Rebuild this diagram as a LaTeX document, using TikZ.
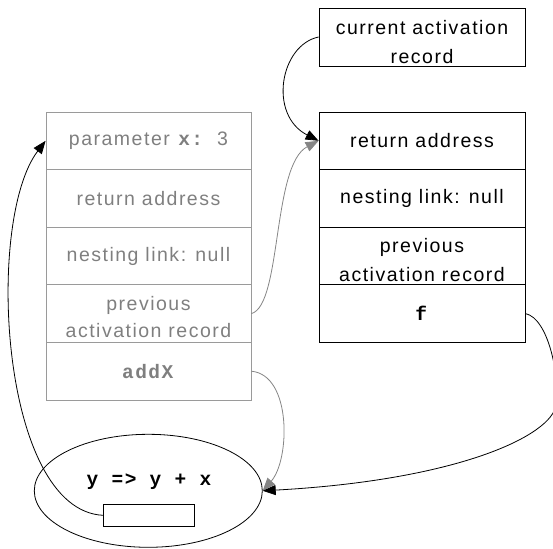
\documentclass[tikz,border=0pt]{standalone}
\usepackage{fontspec}
\setmainfont{Liberation Sans}[LetterSpace=7.7]
\setmonofont{Liberation Mono}[LetterSpace=7.7]
\usetikzlibrary{arrows.meta,shapes.geometric}
\definecolor{boxgray}{HTML}{9A9A9A}
\definecolor{txtgray}{HTML}{7F7F7F}
\definecolor{arrgray}{HTML}{858585}
\newcommand{\twolines}[3]{\raisebox{0pt}[\height][\dimexpr\depth-#3\relax]{\begin{tabular}{@{}c@{}}#1\\#2\end{tabular}}}
\tikzset{
  rowbox/.style={draw, line width=0.8pt, minimum width=205pt, minimum height=57.6pt, inner sep=0pt, align=center,
     font=\fontsize{19.5}{28}\selectfont},
  oldrow/.style={rowbox, draw=boxgray, text=txtgray},
  newrow/.style={rowbox, draw=black, text=black},
  blackarr/.style={draw=black, line width=0.8pt, -{Triangle[length=13pt,width=10pt]}},
  grayarr/.style={draw=arrgray, line width=0.8pt, -{Triangle[length=13pt,width=10pt]}},
}
\begin{document}
\begin{tikzpicture}[x=1pt,y=-1pt]
\useasboundingbox (0,0) rectangle (553,548);
% current activation record pointer
\node[newrow, minimum width=206pt, minimum height=58pt, font=\fontsize{19.5}{29}\selectfont] (cur) at (422,37) {\twolines{current activation}{record}{12pt}};
% left (old) activation record
\node[oldrow] (param) at (148.5,140.8) {parameter \textbf{\ttfamily x:} \,3};
\node[oldrow] (ret1) at (148.5,198.4) {return address};
\node[oldrow] (nest1) at (148.5,256) {nesting link: null};
\node[oldrow, font=\fontsize{19.5}{27}\selectfont] (prev1) at (148.5,313.6) {\twolines{previous}{activation record}{9pt}};
\node[oldrow] (addx) at (148.5,371.2) {\textbf{\ttfamily addX}};
% right (current) activation record
\node[newrow, minimum width=206pt] (ret2) at (422,140.8) {return address};
\node[newrow, minimum width=206pt] (nest2) at (422,198.4) {nesting link: null};
\node[newrow, minimum width=206pt, font=\fontsize{19.5}{29}\selectfont] (prev2) at (422,256) {\twolines{previous}{activation record}{10pt}};
\node[newrow, minimum width=206pt] (f) at (422,313.6) {\textbf{\ttfamily f}};
% closure
\node[draw, ellipse, line width=0.8pt, minimum width=228pt, minimum height=113pt, inner sep=0pt] (closure) at (148.3,490.8) {};
\node[font=\fontsize{19.5}{24}\selectfont\ttfamily\bfseries, inner sep=0pt] (code) at (149,481.7) {y => y + x};
\node[draw, line width=0.8pt, minimum width=90.7pt, minimum height=22.7pt, inner sep=0pt] (env) at (148.7,515.3) {};
% connectors
\draw[blackarr] (cur.west) .. controls (280,45) and (268,115) .. (ret2.west);
\draw[grayarr] (prev1.east) .. controls (282,305) and (272,165) .. (ret2.west);
\draw[grayarr] (addx.east) .. controls (292,375) and (290,460) .. (closure.east);
\draw[blackarr] (f.east) .. controls (548,318) and (560,375) .. (556,405) .. controls (552,435) and (460,480) .. (closure.east);
\draw[blackarr] (env.west) .. controls (0,510) and (-15,220) .. (param.west);
\end{tikzpicture}
\end{document}
